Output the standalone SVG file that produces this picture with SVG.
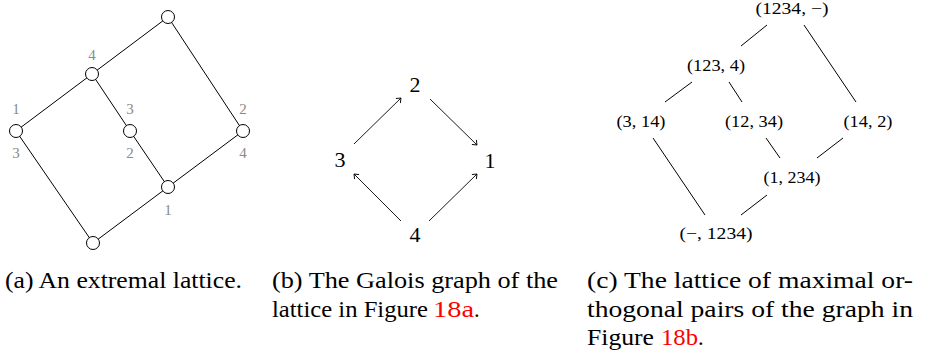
<svg xmlns="http://www.w3.org/2000/svg" width="925" height="356" viewBox="0 0 925 356">
<style>
.e{stroke:#000;stroke-width:1;fill:none}
.n{fill:#fff;stroke:#000;stroke-width:1}
.g{font-family:"Liberation Serif","Times New Roman",serif;font-size:15px;fill:#8a8a8a;text-anchor:middle}
.b{font-family:"Liberation Serif","Times New Roman",serif;font-size:22px;fill:#000;text-anchor:middle}
.c{font-family:"Liberation Serif","Times New Roman",serif;font-size:17px;fill:#000;text-anchor:middle}
.cap{font-family:"Liberation Serif","Times New Roman",serif;font-size:22.5px;fill:#000}
.red{fill:#ff0000}
.a{stroke:#000;stroke-width:0.9;fill:none}
</style>
<defs>
<marker id="tip" markerUnits="userSpaceOnUse" markerWidth="12" markerHeight="12" viewBox="-6 -6 12 12" refX="0" refY="0" orient="auto">
<path d="M -4 -3.2 Q -1.2 -0.9 0 0 Q -1.2 0.9 -4 3.2" stroke="#000" stroke-width="0.9" fill="none"/>
</marker>
</defs>
<!-- Panel (a) -->
<g id="a-edges">
<line class="e" x1="168" y1="17" x2="92" y2="74"/>
<line class="e" x1="168" y1="17" x2="243" y2="131"/>
<line class="e" x1="92" y1="74" x2="16" y2="131"/>
<line class="e" x1="92" y1="74" x2="130" y2="131"/>
<line class="e" x1="16" y1="131" x2="93" y2="243"/>
<line class="e" x1="130" y1="131" x2="168" y2="187"/>
<line class="e" x1="243" y1="131" x2="168" y2="187"/>
<line class="e" x1="168" y1="187" x2="93" y2="243"/>
</g>
<g id="a-top"><circle class="n" cx="168" cy="17" r="6.5"/></g>
<g id="a-n4"><circle class="n" cx="92" cy="74" r="6.5"/><text class="g" x="92" y="60">4</text></g>
<g id="a-left"><circle class="n" cx="16" cy="131" r="6.5"/><text class="g" x="16" y="114">1</text><text class="g" x="16" y="158">3</text></g>
<g id="a-mid"><circle class="n" cx="130" cy="131" r="6.5"/><text class="g" x="130" y="114">3</text><text class="g" x="130" y="158">2</text></g>
<g id="a-right"><circle class="n" cx="243" cy="131" r="6.5"/><text class="g" x="243" y="114">2</text><text class="g" x="243" y="158">4</text></g>
<g id="a-n1"><circle class="n" cx="168" cy="187" r="6.5"/><text class="g" x="168" y="215">1</text></g>
<g id="a-bottom"><circle class="n" cx="93" cy="243" r="6.5"/></g>
<!-- Panel (b) -->
<g id="b-edges">
<line class="a" x1="354" y1="144" x2="401" y2="98" marker-end="url(#tip)"/>
<line class="a" x1="430" y1="99" x2="477" y2="145" marker-end="url(#tip)"/>
<line class="a" x1="401" y1="221" x2="354" y2="174" marker-end="url(#tip)"/>
<line class="a" x1="429" y1="221" x2="477" y2="174" marker-end="url(#tip)"/>
</g>
<g id="b-2"><text class="b" x="415" y="92">2</text></g>
<g id="b-3"><text class="b" x="340" y="167">3</text></g>
<g id="b-1"><text class="b" x="490" y="168">1</text></g>
<g id="b-4"><text class="b" x="415" y="242">4</text></g>
<!-- Panel (c) -->
<g id="c-edges">
<line class="e" x1="767" y1="25" x2="741" y2="46"/>
<line class="e" x1="804" y1="25" x2="856" y2="102"/>
<line class="e" x1="692" y1="82" x2="665" y2="102"/>
<line class="e" x1="729" y1="82" x2="742" y2="102"/>
<line class="e" x1="653" y1="138" x2="705" y2="215"/>
<line class="e" x1="766" y1="138" x2="780" y2="158"/>
<line class="e" x1="843" y1="138" x2="817" y2="158"/>
<line class="e" x1="767" y1="195" x2="741" y2="215"/>
</g>
<g id="c-top"><text class="c" x="792" y="14" textLength="73" lengthAdjust="spacingAndGlyphs">(1234, −)</text></g>
<g id="c-123-4"><text class="c" x="716" y="71" textLength="58" lengthAdjust="spacingAndGlyphs">(123, 4)</text></g>
<g id="c-3-14"><text class="c" x="641" y="127" textLength="49" lengthAdjust="spacingAndGlyphs">(3, 14)</text></g>
<g id="c-12-34"><text class="c" x="754" y="127" textLength="58" lengthAdjust="spacingAndGlyphs">(12, 34)</text></g>
<g id="c-14-2"><text class="c" x="868" y="127" textLength="49" lengthAdjust="spacingAndGlyphs">(14, 2)</text></g>
<g id="c-1-234"><text class="c" x="792" y="183" textLength="57" lengthAdjust="spacingAndGlyphs">(1, 234)</text></g>
<g id="c-bottom"><text class="c" x="716" y="239" textLength="73" lengthAdjust="spacingAndGlyphs">(−, 1234)</text></g>
<!-- Captions -->
<g id="captions">
<text class="cap" x="5" y="288" textLength="237" lengthAdjust="spacingAndGlyphs">(a) An extremal lattice.</text>
<text class="cap" x="272" y="288" textLength="286" lengthAdjust="spacingAndGlyphs">(b) The Galois graph of the</text>
<text class="cap" x="272" y="316.5" textLength="156" lengthAdjust="spacingAndGlyphs">lattice in Figure</text>
<text class="cap red" x="433" y="316.5" textLength="41" lengthAdjust="spacingAndGlyphs">18a</text>
<text class="cap" x="474" y="316.5">.</text>
<text class="cap" x="587" y="288" textLength="326" lengthAdjust="spacingAndGlyphs">(c) The lattice of maximal or-</text>
<text class="cap" x="587" y="316.5" textLength="326" lengthAdjust="spacingAndGlyphs">thogonal pairs of the graph in</text>
<text class="cap" x="587" y="345" textLength="67" lengthAdjust="spacingAndGlyphs">Figure</text>
<text class="cap red" x="661" y="345" textLength="37" lengthAdjust="spacingAndGlyphs">18b</text>
<text class="cap" x="698" y="345">.</text>
</g>
</svg>
